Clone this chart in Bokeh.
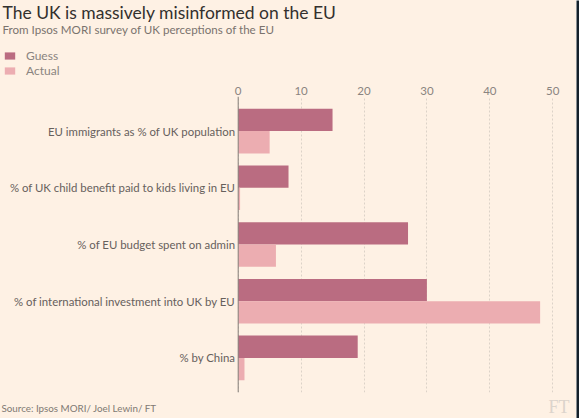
from bokeh.plotting import figure
from bokeh.layouts import column, row
from bokeh.models import (FactorRange, Range1d, FixedTicker, Legend,
                          LegendItem, ColumnDataSource, Span)
from bokeh.core.properties import value
from bokeh.transform import dodge
from bokeh.embed import file_html
from bokeh.resources import INLINE

# ---- data ----
categories = [
    "EU immigrants as % of UK population",
    "% of UK child benefit paid to kids living in EU",
    "% of EU budget spent on admin",
    "% of international investment into UK by EU",
    "% by China",
]
guess = [15, 8, 27, 30, 19]
actual = [5, 0.3, 6, 48, 1]
x_ticks = [0, 10, 20, 30, 40, 50]
series_names = ["Guess", "Actual"]

title_text = "The UK is massively misinformed on the EU"
subtitle_text = "From Ipsos MORI survey of UK perceptions of the EU"
source_text = "Source: Ipsos MORI/ Joel Lewin/ FT"
logo_text = "FT"

# ---- style ----
W = 576
BG = "#fef1e4"
EDGE = "#13202a"
GUESS_C = "#ba6c81"
ACTUAL_C = "#ecadb1"
FONT = "Lato"
LABEL_C = "#66605c"
LIGHT_C = "#8a8480"


def style(f, bg=BG):
    f.title.visible = False
    f.outline_line_color = None
    f.background_fill_color = bg
    f.border_fill_color = bg


def blank(h, w=W, bg=BG):
    f = figure(width=w, height=h, x_range=Range1d(0, w), y_range=Range1d(h, 0),
               x_axis_type=None, y_axis_type=None, output_backend="svg",
               toolbar_location=None, min_border=0)
    style(f, bg)
    f.xgrid.visible = False
    f.ygrid.visible = False
    return f


# ---- header: title, subtitle, legend ----
HH = 80
head = blank(HH)
head.text(x=[2], y=[12], text=[title_text], text_font=value(FONT),
          text_font_size=value("17.5px"), text_color="#33302e",
          text_baseline="middle")
head.text(x=[2], y=[29], text=[subtitle_text], text_font=value(FONT),
          text_font_size=value("11.6px"), text_color="#7a736e",
          text_baseline="middle")
# zero-width swatch renderers that only feed the legend
k1 = head.hbar(y=[0], left=[0], right=[0], height=1, fill_color=GUESS_C,
               line_color=None)
k2 = head.hbar(y=[0], left=[0], right=[0], height=1, fill_color=ACTUAL_C,
               line_color=None)
legend = Legend(
    items=[LegendItem(label=series_names[0], renderers=[k1]),
           LegendItem(label=series_names[1], renderers=[k2])],
    location=(3, 2), orientation="vertical",
    glyph_width=13, glyph_height=9, label_height=9, label_standoff=10,
    spacing=0, padding=0, margin=0,
    border_line_color=None, background_fill_alpha=0,
    label_text_font=FONT, label_text_font_size="12px",
    label_text_color=LIGHT_C,
)
head.add_layout(legend)

# ---- main chart ----
TOP, BOT = HH, 395
MH = BOT - TOP
FTOP, FBOT = 96, 392
ZERO_PX, PX_PER = 237.7, 6.29
p = figure(
    width=W, height=MH,
    x_range=Range1d(-ZERO_PX / PX_PER, (W - ZERO_PX) / PX_PER),
    y_range=FactorRange(factors=categories[::-1], range_padding=0.11,
                        range_padding_units="absolute"),
    x_axis_location="above", y_axis_location=None,
    output_backend="svg", toolbar_location=None,
    min_border_left=0, min_border_right=0,
    min_border_top=FTOP - TOP, min_border_bottom=BOT - FBOT,
)
style(p)

src = ColumnDataSource(dict(cat=categories, guess=guess, actual=actual))
bar_h = 0.393
p.hbar(y=dodge("cat", bar_h / 2, range=p.y_range), left=0, right="guess",
       height=bar_h, source=src, fill_color=GUESS_C, line_color=None)
p.hbar(y=dodge("cat", -bar_h / 2, range=p.y_range), left=0, right="actual",
       height=bar_h, source=src, fill_color=ACTUAL_C, line_color=None)

# category labels, right-aligned against the zero line
p.text(x=0, y="cat", text="cat", source=src, x_offset=-3,
       text_align="right", text_baseline="middle", text_font=value(FONT),
       text_font_size=value("11.4px"), text_color=LABEL_C)

p.add_layout(Span(location=0, dimension="height", line_color="#857e79",
                  line_width=1))

xa = p.xaxis[0]
xa.ticker = FixedTicker(ticks=x_ticks)
xa.axis_line_color = None
xa.major_tick_line_color = None
xa.minor_tick_line_color = None
xa.major_label_text_font = FONT
xa.major_label_text_font_size = "11.5px"
xa.major_label_text_color = LIGHT_C
xa.major_label_standoff = -4

p.xgrid.ticker = FixedTicker(ticks=x_ticks)
p.xgrid.grid_line_color = "#dcd2c8"
p.xgrid.grid_line_dash = "2 2"
p.ygrid.grid_line_color = None

# ---- footer: source and logo ----
FH = 418 - BOT
foot = blank(FH)
foot.text(x=[1], y=[12], text=[source_text], text_font=value(FONT),
          text_font_size=value("9.8px"), text_color="#807973",
          text_baseline="middle")
foot.text(x=[548], y=[11], text=[logo_text],
          text_font=value("Liberation Serif"), text_font_size=value("18px"),
          text_color="#dcd4cc", text_baseline="middle")

body = column(head, p, foot, spacing=0, width=W, height=418,
              styles={"background-color": BG})
edge = blank(418, w=3, bg=EDGE)
layout = row(body, edge, spacing=0)

open("out.html", "w").write(file_html(layout, INLINE))
